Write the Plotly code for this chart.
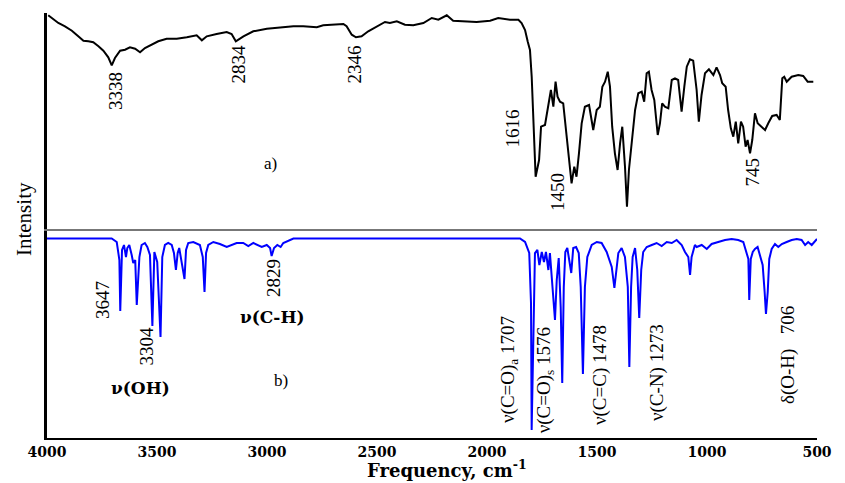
import plotly.graph_objects as go

# Experimental FT-IR spectrum (a): wavenumber (cm-1), transmittance (arb. units)
exp_spectrum = [
    (3596, 213.7), (3582, 211), (3555, 206), (3528, 202.7), (3500, 198.3), (3474, 192.7),
    (3453, 188.3), (3433, 187.7), (3413, 186.7), (3392, 182.7), (3372, 178.3), (3352, 171.7),
    (3338, 163.7), (3325, 171), (3304, 178.3), (3284, 179.3), (3264, 181.7), (3243, 180.3),
    (3223, 176.7), (3203, 181), (3176, 184.3), (3149, 187.7), (3115, 190.3), (3074, 190.3),
    (3033, 191.7), (2993, 193.7), (2972, 188.7), (2952, 192.7), (2912, 195), (2871, 197),
    (2851, 195), (2834, 187.7), (2803, 192.7), (2763, 197.7), (2708, 200.3), (2654, 201.7),
    (2600, 202.7), (2560, 202.7), (2505, 201.7), (2479, 203.7), (2438, 204.3), (2397, 205),
    (2384, 202.7), (2363, 194.3), (2346, 191.7), (2323, 192.7), (2296, 197.7), (2262, 202.7),
    (2228, 207), (2208, 206), (2180, 207.7), (2147, 204.3), (2113, 203.7), (2072, 206),
    (2038, 211), (2011, 209.3), (1977, 213.7), (1951, 208.3), (1910, 207.7), (1856, 207),
    (1801, 208.3), (1768, 211), (1720, 209.3), (1686, 209.3), (1673, 206), (1659, 199),
    (1648, 187.3), (1639, 179), (1632, 152.3), (1626, 119), (1619, 85.7), (1616, 52.3),
    (1602, 69), (1594, 102.3), (1578, 104), (1565, 125.7), (1554, 139), (1544, 122.3),
    (1535, 147.3), (1527, 132.3), (1517, 127.3), (1504, 125.7), (1490, 92.3), (1477, 62.3),
    (1470, 45.7), (1459, 62.3), (1450, 52.3), (1440, 75.7), (1429, 105.7), (1416, 122.3),
    (1399, 124), (1382, 99), (1368, 119), (1355, 122.3), (1345, 142.3), (1334, 147.3),
    (1323, 157.3), (1314, 142.3), (1305, 102.3), (1294, 75.7), (1283, 59), (1273, 85.7),
    (1264, 102.3), (1253, 62.3), (1245, 22.3), (1237, 59), (1226, 89), (1212, 119),
    (1199, 135.7), (1185, 137.3), (1175, 127.3), (1165, 155.7), (1156, 157.3), (1145, 139),
    (1134, 129), (1120, 94), (1111, 105.7), (1102, 125.7), (1091, 122.3), (1077, 120.7),
    (1063, 149), (1050, 150.7), (1037, 149), (1023, 117.3), (1012, 142.3), (1002, 162.3),
    (989, 169.7), (976, 168.3), (962, 139), (953, 107.3), (942, 134), (928, 155.7),
    (912, 159.7), (894, 154), (881, 161.7), (867, 154), (858, 145.7), (844, 142.3),
    (834, 119), (823, 100.7), (813, 92.3), (803, 107.3), (793, 85.7), (782, 107.3),
    (773, 102.3), (763, 82.3), (755, 89), (745, 75.7), (736, 89), (725, 115.7),
    (714, 105.7), (698, 102.3), (684, 99), (671, 105.7), (655, 113), (637, 114),
    (624, 109), (614, 150.7), (606, 152.3), (596, 147.3), (576, 152.3), (549, 154),
    (529, 153), (511, 147.3), (488, 147.3),
]

# Calculated IR spectrum (b): wavenumber (cm-1), transmittance (arb. units)
calc_spectrum = [
    (4000, 199.5), (3706, 199.5), (3683, 196), (3671, 178), (3667, 127), (3659, 188),
    (3650, 193), (3641, 181), (3635, 190), (3626, 193), (3615, 183), (3608, 175),
    (3599, 178), (3592, 133), (3580, 181), (3570, 193), (3555, 195), (3544, 191),
    (3532, 183), (3521, 112), (3512, 186), (3505, 181), (3499, 176), (3484, 101),
    (3476, 181), (3464, 193), (3449, 195), (3433, 193), (3423, 185), (3414, 168),
    (3406, 185), (3399, 190), (3388, 175), (3375, 159), (3368, 188), (3358, 195),
    (3335, 196), (3305, 193), (3292, 181), (3284, 146), (3277, 185), (3267, 193),
    (3244, 196), (3214, 194), (3183, 191), (3160, 193), (3138, 195), (3108, 195),
    (3085, 192), (3062, 195), (3040, 193), (3024, 191), (3001, 193), (2986, 190),
    (2979, 182), (2968, 190), (2953, 193), (2938, 191), (2926, 195), (2903, 197),
    (2880, 199.5), (1850, 199.5), (1827, 196), (1808, 185), (1800, 135), (1797, 8),
    (1789, 105), (1782, 185), (1771, 188), (1762, 173), (1751, 186), (1741, 176),
    (1732, 186), (1721, 168), (1714, 185), (1701, 151), (1691, 118), (1683, 158),
    (1674, 180), (1665, 131), (1658, 55), (1651, 151), (1644, 186), (1635, 190),
    (1626, 178), (1617, 165), (1608, 190), (1595, 191), (1583, 185), (1574, 151),
    (1564, 64), (1555, 151), (1544, 181), (1524, 193), (1501, 196), (1479, 195),
    (1456, 186), (1433, 171), (1421, 150), (1414, 165), (1403, 185), (1388, 190),
    (1373, 181), (1360, 151), (1353, 71), (1345, 151), (1338, 181), (1327, 190),
    (1317, 168), (1308, 120), (1299, 168), (1290, 186), (1274, 191), (1251, 193),
    (1229, 195), (1206, 192), (1183, 196), (1160, 195), (1138, 198), (1115, 193),
    (1100, 186), (1085, 181), (1077, 163), (1070, 181), (1055, 193), (1047, 191),
    (1024, 193), (1001, 189), (979, 194), (949, 196), (918, 198), (888, 199),
    (858, 198), (835, 196), (823, 188), (812, 179), (808, 138), (801, 179),
    (792, 186), (782, 189), (770, 191), (759, 181), (747, 173), (738, 146),
    (732, 124), (724, 146), (717, 179), (706, 189), (691, 194), (676, 191),
    (660, 194), (638, 196), (615, 198), (592, 199), (570, 198), (554, 193),
    (540, 196), (524, 193), (509, 197), (500, 199),
]

tick_values = [4000, 3500, 3000, 2500, 2000, 1500, 1000, 500]

# Peak labels: (text, wavenumber position, intensity position)
exp_labels = [
    ("3338", 3325, 138), ("2834", 2825, 164.5), ("2346", 2350, 164.5),
    ("1616", 1708, 100.5), ("1450", 1529, 37), ("745", 737, 56.5),
]
calc_labels = [
    ("3647", 3750, 138), ("3304", 3550, 91.5), ("2829", 2973, 160),
    ("ν(C=O)<sub>a</sub> 1707", 1900, 68), ("ν(C=O)<sub>s</sub> 1576", 1735, 58),
    ("ν(C=C) 1478", 1486, 63), ("ν(C-N) 1273", 1227, 65), ("δ(O-H)   706", 632, 83),
]
band_labels = [("ν(OH)", 3577, 50.5), ("ν(C-H)", 2977, 121)]

exp_wn, exp_t = zip(*exp_spectrum)
calc_wn, calc_t = zip(*calc_spectrum)

SERIF = "Liberation Serif, Times New Roman, serif"
BOLD_SERIF = "DejaVu Serif, Liberation Serif, serif"

fig = go.Figure()
fig.add_trace(go.Scatter(x=exp_wn, y=exp_t, xaxis="x2", yaxis="y2", mode="lines",
                         line=dict(color="black", width=2), showlegend=False))
fig.add_trace(go.Scatter(x=calc_wn, y=calc_t, xaxis="x", yaxis="y", mode="lines",
                         line=dict(color="#0000ff", width=2), showlegend=False))

split = 209 / 425

annotations = []
for text, xv, yv in exp_labels:
    annotations.append(dict(text=text, x=xv, y=yv, xref="x2", yref="y2", textangle=-90,
                            xanchor="center", yanchor="middle", showarrow=False,
                            font=dict(family=SERIF, size=19, color="black")))
annotations.append(dict(text="a)", x=2695, y=66, xref="x2", yref="y2", showarrow=False,
                        font=dict(family=SERIF, size=17, color="black")))
for text, xv, yv in calc_labels:
    annotations.append(dict(text=text, x=xv, y=yv, xref="x", yref="y", textangle=-90,
                            xanchor="center", yanchor="middle", showarrow=False,
                            font=dict(family=SERIF, size=19, color="black")))
for text, xv, yv in band_labels:
    annotations.append(dict(text=text, x=xv, y=yv, xref="x", yref="y", showarrow=False,
                            font=dict(family=BOLD_SERIF, size=17, color="black", weight="bold")))
annotations.append(dict(text="b)", x=2936, y=58, xref="x", yref="y", showarrow=False,
                        font=dict(family=SERIF, size=17, color="black")))
annotations.append(dict(text="Frequency, cm<sup>-1</sup>", x=0.519, y=-0.074,
                        xref="paper", yref="paper", showarrow=False,
                        xanchor="center", yanchor="middle",
                        font=dict(family=BOLD_SERIF, size=18, color="black", weight="bold")))
annotations.append(dict(text="Intensity", x=-0.03, y=0.515, xref="paper", yref="paper",
                        textangle=-90, xanchor="center", yanchor="middle", showarrow=False,
                        font=dict(family=SERIF, size=21, color="black")))

fig.update_layout(
    width=845, height=483,
    margin=dict(l=47, r=28, t=13, b=45),
    paper_bgcolor="white", plot_bgcolor="white",
    xaxis=dict(domain=[0, 1], range=[4000, 500], anchor="y", tickvals=tick_values,
               ticks="", showgrid=False, zeroline=False, showline=True,
               linecolor="black", linewidth=2,
               tickfont=dict(family=BOLD_SERIF, size=14, color="black", weight="bold")),
    yaxis=dict(domain=[0, split], range=[0, 209], anchor="x", showticklabels=False,
               ticks="", showgrid=False, zeroline=False, showline=True,
               linecolor="black", linewidth=2.5),
    xaxis2=dict(domain=[0, 1], range=[3601, 473], anchor="y2", showticklabels=False,
                ticks="", showgrid=False, zeroline=False, showline=True,
                linecolor="#777777", linewidth=1.5),
    yaxis2=dict(domain=[split, 1], range=[0, 216], anchor="x2", showticklabels=False,
                ticks="", showgrid=False, zeroline=False, showline=True,
                linecolor="black", linewidth=2.5),
    annotations=annotations,
)

fig.write_html("out.html")
